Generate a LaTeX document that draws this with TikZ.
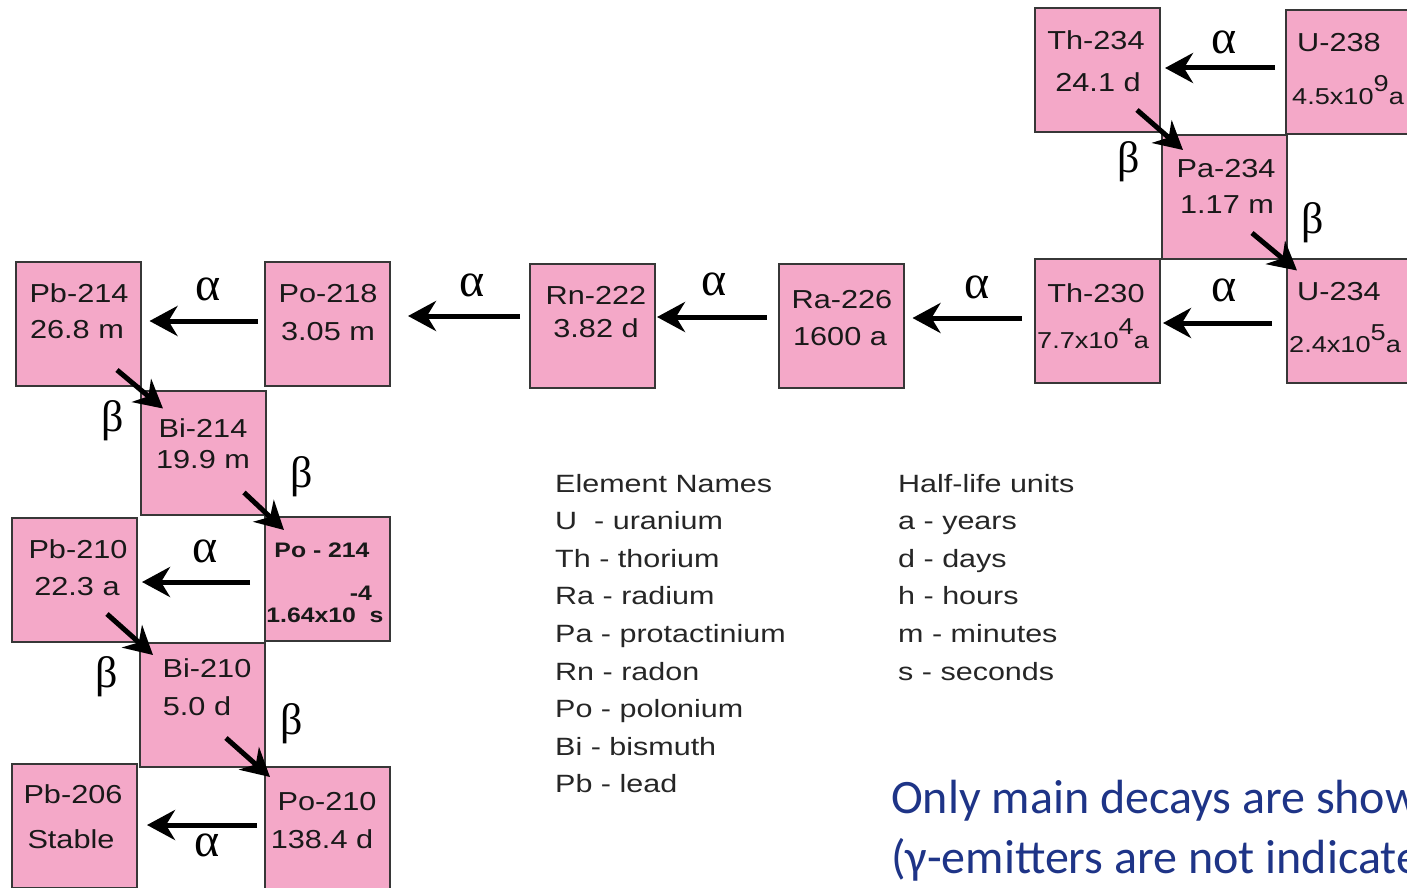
\documentclass[tikz,border=0pt]{standalone}
\usepackage{fontspec}
\setmainfont{Liberation Sans}
\newfontfamily\boxfont[FakeStretch=1.18]{Liberation Sans}
\newfontfamily\legfont[FakeStretch=1.22]{Liberation Sans}
\newfontfamily\grkfont{Liberation Serif}
\newfontfamily\notefont{Carlito}
\usetikzlibrary{arrows.meta,calc}
\definecolor{boxpink}{RGB}{244,168,200}
\definecolor{boxline}{RGB}{55,55,55}
\definecolor{noteblue}{RGB}{30,52,135}
\tikzset{
 nuc/.style={draw=boxline, line width=2pt, fill=boxpink, minimum width=125pt, minimum height=124pt, inner sep=0pt, outer sep=0pt},
 ntxt/.style={font=\boxfont\fontsize{26}{28}\selectfont, inner sep=0pt, anchor=base, text=black!90},
 nsmall/.style={font=\boxfont\fontsize{23}{26}\selectfont, inner sep=0pt, anchor=base, text=black!90},
 nbold/.style={font=\boxfont\bfseries\fontsize{21}{24}\selectfont, inner sep=0pt, anchor=base, text=black!90},
 decay/.style={line width=5pt, -{Stealth[length=28pt,width=30pt,inset=9pt]}},
 glab/.style={font=\grkfont\fontsize{44}{44}\selectfont, inner sep=0pt},
 alab/.style={font=\grkfont\fontsize{48}{48}\selectfont, inner sep=0pt},
 leg/.style={font=\legfont\fontsize{25}{28}\selectfont, anchor=base west, inner sep=0pt, text=black!85},
 note/.style={font=\notefont\fontsize{48}{56}\selectfont, anchor=base west, inner sep=0pt, text=noteblue},
}
\begin{document}
\begin{tikzpicture}[x=1pt,y=-1pt]
\useasboundingbox (0,0) rectangle (1407,888);
\clip (0,0) rectangle (1407,888);
% boxes
\node[nuc] (th234) at (1097.5,70) {};
\node[nuc] (u238)  at (1348.5,72) {};
\node[nuc] (pa234) at (1224.5,196.5) {};
\node[nuc] (th230) at (1097.5,321) {};
\node[nuc] (u234)  at (1349,320.5) {};
\node[nuc] (ra226) at (841,325.5) {};
\node[nuc] (rn222) at (592.5,325.5) {};
\node[nuc] (po218) at (327.5,324) {};
\node[nuc] (pb214) at (78,324) {};
\node[nuc] (bi214) at (203,452.5) {};
\node[nuc] (po214) at (327,579) {};
\node[nuc] (pb210) at (74.5,580) {};
\node[nuc] (bi210) at (202.5,705) {};
\node[nuc] (po210) at (327,829) {};
\node[nuc] (pb206) at (74.5,826) {};
% box texts
\node[ntxt] (t1a) at (1096,50) {Th-234};
\node[ntxt] (t1b) at (1098,92) {24.1 d};
\node[ntxt] (t2a) at (1339,52) {U-238};
\node[nsmall] (t2b) at (1348,105) {4.5x10\raisebox{13pt}{9}a};
\node[ntxt] (t3a) at (1226,177) {Pa-234};
\node[ntxt] (t3b) at (1227,213) {1.17 m};
\node[ntxt] (t4a) at (1096,302) {Th-230};
\node[nsmall] (t4b) at (1093,348) {7.7x10\raisebox{14pt}{4}a};
\node[ntxt] (t5a) at (1339,300) {U-234};
\node[nsmall] (t5b) at (1345,352) {2.4x10\raisebox{12pt}{5}a};
\node[ntxt] (t6a) at (842,308) {Ra-226};
\node[ntxt] (t6b) at (840,345) {1600 a};
\node[ntxt] (t7a) at (596,304) {Rn-222};
\node[ntxt] (t7b) at (596,337) {3.82 d};
\node[ntxt] (t8a) at (328,302) {Po-218};
\node[ntxt] (t8b) at (328,340) {3.05 m};
\node[ntxt] (t9a) at (79,302) {Pb-214};
\node[ntxt] (t9b) at (77,338) {26.8 m};
\node[ntxt] (t10a) at (203,437) {Bi-214};
\node[ntxt] (t10b) at (203,468) {19.9 m};
\node[nbold] (t11a) at (322,557) {Po - 214};
\node[nbold] (t11e) at (361,600) {-4};
\node[nbold] (t11b) at (325,622) {1.64x10\ \ s};
\node[ntxt] (t12a) at (78,558) {Pb-210};
\node[ntxt] (t12b) at (77,595) {22.3 a};
\node[ntxt] (t13a) at (207,677) {Bi-210};
\node[ntxt] (t13b) at (197,715) {5.0 d};
\node[ntxt] (t14a) at (327,810) {Po-210};
\node[ntxt] (t14b) at (322,848) {138.4 d};
\node[ntxt] (t15a) at (73,803) {Pb-206};
\node[ntxt] (t15b) at (71,848) {Stable};
% alpha decays
\draw[decay] ($(u238.west)+(-11,-4)$) -- ($(th234.east)+(5,-2)$);
\draw[decay] ($(u234.west)+(-14.5,2.5)$) -- ($(th230.east)+(3,2)$);
\draw[decay] ($(th230.west)+(-13,-3)$) -- ($(ra226.east)+(9,-7.5)$);
\draw[decay] ($(ra226.west)+(-12,-8.5)$) -- ($(rn222.east)+(2,-8.5)$);
\draw[decay] ($(rn222.west)+(-10,-9.5)$) -- ($(po218.east)+(18,-8)$);
\draw[decay] ($(po218.west)+(-7,-3)$) -- ($(pb214.east)+(9,-3)$);
\draw[decay] ($(po214.west)+(-14.5,3)$) -- ($(pb210.east)+(5,2)$);
\draw[decay] ($(po210.west)+(-7.5,-4)$) -- ($(pb206.east)+(10,-1)$);
% beta decays
\draw[decay] ($(th234.south east)+(-23,-22)$) -- ($(pa234.north west)+(21,15.5)$);
\draw[decay] ($(pa234.south east)+(-35,-25.5)$) -- ($(u234.north west)+(10.5,12)$);
\draw[decay] ($(pb214.south east)+(-23.5,-16)$) -- ($(bi214.north west)+(22.5,18)$);
\draw[decay] ($(bi214.south east)+(-21.5,-22)$) -- ($(po214.north west)+(19.5,13)$);
\draw[decay] ($(pb210.south east)+(-30,-28)$) -- ($(bi210.north west)+(13,12)$);
\draw[decay] ($(bi210.south east)+(-39,-29)$) -- ($(po210.north west)+(5.5,10)$);
% alpha labels
\node[alab] (a1) at (1224,42) {α};
\node[alab] (a2) at (1224,290) {α};
\node[alab] (a3) at (977,287) {α};
\node[alab] (a4) at (714,284) {α};
\node[alab] (a5) at (472,285) {α};
\node[alab] (a6) at (208,289) {α};
\node[alab] (a7) at (205,551) {α};
\node[alab] (a8) at (207,845) {α};
% beta labels
\node[glab] (b1) at (1129,162) {β};
\node[glab] (b2) at (1313,223) {β};
\node[glab] (b3) at (113,421) {β};
\node[glab] (b4) at (302,477) {β};
\node[glab] (b5) at (107,677) {β};
\node[glab] (b6) at (292,724) {β};
% legend
\node[leg] (l0) at (555,492) {Element Names};
\node[leg] (l1) at (555,529.6) {U\ \ - uranium};
\node[leg] (l2) at (555,567.2) {Th - thorium};
\node[leg] (l3) at (555,604.8) {Ra - radium};
\node[leg] (l4) at (555,642.4) {Pa - protactinium};
\node[leg] (l5) at (555,680) {Rn - radon};
\node[leg] (l6) at (555,717.6) {Po - polonium};
\node[leg] (l7) at (555,755.2) {Bi - bismuth};
\node[leg] (l8) at (555,792.8) {Pb - lead};
\node[leg] (h0) at (898,492) {Half-life units};
\node[leg] (h1) at (898,529.6) {a - years};
\node[leg] (h2) at (898,567.2) {d - days};
\node[leg] (h3) at (898,604.8) {h - hours};
\node[leg] (h4) at (898,642.4) {m - minutes};
\node[leg] (h5) at (898,680) {s - seconds};
% note
\node[note] (n1) at (891,813) {Only main decays are shown};
\node[note] (n2) at (891,873) {(γ-emitters are not indicated)};
\end{tikzpicture}
\end{document}
